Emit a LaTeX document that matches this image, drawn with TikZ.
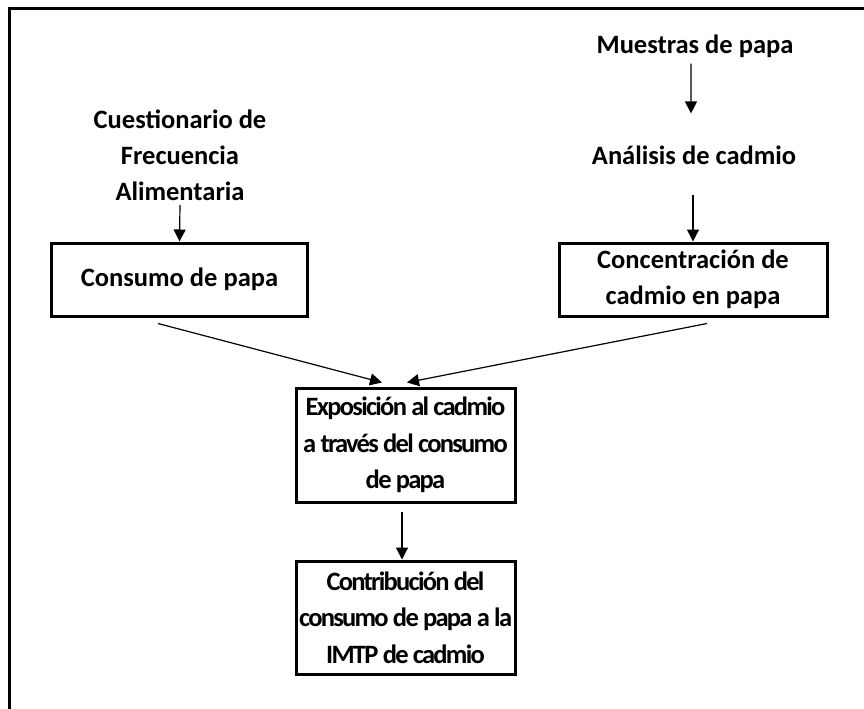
\documentclass[tikz,border=0pt]{standalone}
\usepackage{fontspec}
\setmainfont{Carlito}
\usetikzlibrary{arrows.meta,calc}
\tikzset{
  txt/.style={font=\fontsize{26.5bp}{36bp}\selectfont\bfseries, align=center, inner sep=0pt},
  tight/.style={font=\fontsize{26.5bp}{36.5bp}\selectfont\bfseries\addfontfeature{LetterSpace=-6.5}},
  box/.style={txt, draw, line width=3bp},
  arr/.style={line width=1.2bp, -{Triangle[length=12bp,width=12bp]}},
  frame/.style={line width=3bp}
}
\begin{document}
\begin{tikzpicture}[x=1bp,y=-1bp]
\useasboundingbox (0,0) rectangle (864,709);
\draw[frame] (9,709) -- (9,9) -- (864,9);

\node[txt] (cuest) at (180,155) {Cuestionario de\\Frecuencia\\Alimentaria};
\node[txt] (muestras) at (695,46) {Muestras de papa};
\node[txt] (analisis) at (694,155) {Análisis de cadmio};

\node[box, minimum width=255bp, minimum height=73bp] (consumo) at (179.5,279.5) {Consumo de papa};
\node[box, minimum width=268bp, minimum height=73bp] (conc) at (693,279.5) {Concentración de\\cadmio en papa};
\node[box, tight, minimum width=219bp, minimum height=114bp] (expo) at (405.5,445) {Exposición al cadmio\\a través del consumo\\de papa};
\node[box, tight, minimum width=219bp, minimum height=113bp] (contrib) at (405.5,617.5) {Contribución del\\consumo de papa a la\\IMTP de cadmio};

\draw[arr] (cuest.south |- 0,205) -- (consumo.north);
\draw[arr] ([xshift=-4bp,yshift=-6bp]muestras.south) -- ([xshift=-3bp,yshift=32bp]analisis.north);
\draw[arr] ([xshift=-1bp,yshift=-30bp]analisis.south) -- ([xshift=0bp]conc.north);
\draw[arr] ([xshift=-21.5bp,yshift=-6bp]consumo.south) -- ([xshift=-23.5bp,yshift=4bp]expo.north);
\draw[arr] ([xshift=14bp,yshift=-6bp]conc.south) -- ([xshift=1.5bp,yshift=4bp]expo.north);
\draw[arr] ([xshift=-3.5bp,yshift=-8bp]expo.south) -- ([xshift=-3.5bp]contrib.north);
\end{tikzpicture}
\end{document}
